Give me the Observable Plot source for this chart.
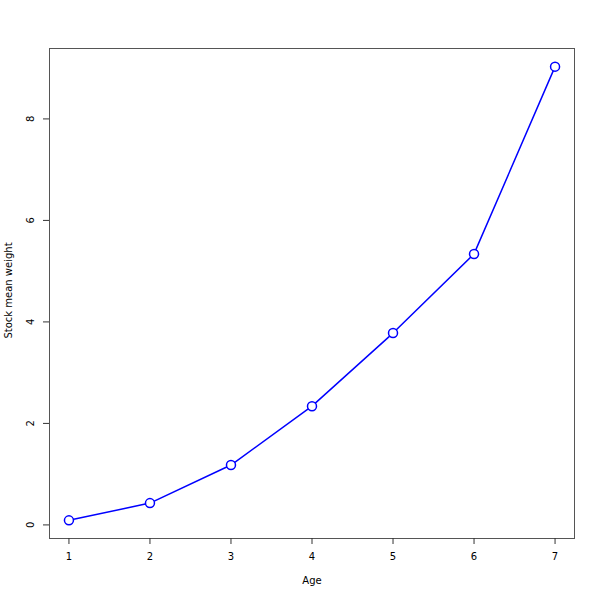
<!DOCTYPE html>
<html>
<head>
<meta charset="utf-8">
<script src="https://cdn.jsdelivr.net/npm/d3@7"></script>
<script src="https://cdn.jsdelivr.net/npm/@observablehq/plot@0.6"></script>
<style>
  html, body { margin: 0; padding: 0; background: #fff; }
</style>
</head>
<body>
<div id="chart"></div>
<script>
const ages = [1, 2, 3, 4, 5, 6, 7];
const weights = [0.09, 0.43, 1.18, 2.34, 3.78, 5.34, 9.03];
const xTicks = [1, 2, 3, 4, 5, 6, 7];
const yTicks = [0, 2, 4, 6, 8];
const xLabel = "Age";
const yLabel = "Stock mean weight";

const data = ages.map((a, i) => ({age: a, weight: weights[i]}));

// R-style 4% axis expansion
const pad = (lo, hi) => { const d = (hi - lo) * 0.04; return [lo - d, hi + d]; };
const xDom = pad(d3.min(ages), d3.max(ages));
const yDom = pad(d3.min(weights), d3.max(weights));

const chart = Plot.plot({
  width: 600,
  height: 600,
  marginLeft: 49,
  marginRight: 26,
  marginTop: 48,
  marginBottom: 62,
  style: {fontFamily: "DejaVu Sans", fontSize: "10px", background: "#fff", color: "#000"},
  x: {domain: xDom, axis: null},
  y: {domain: yDom, axis: null},
  marks: [
    Plot.frame({stroke: "#555", strokeWidth: 1}),
    Plot.axisX(xTicks, {tickSize: 6, tickPadding: 8, stroke: "#333", fill: "#000", label: null, tickFormat: d3.format("d")}),
    Plot.axisY(yTicks, {tickSize: 6, tickRotate: -90, tickPadding: 10, stroke: "#333", fill: "#000", label: null, tickFormat: d3.format("d")}),
    Plot.line(data, {x: "age", y: "weight", stroke: "#0000ff", strokeWidth: 1.5}),
    Plot.dot(data, {x: "age", y: "weight", r: 4.5, fill: "#fff", stroke: "#0000ff", strokeWidth: 1.5}),
    Plot.text([xLabel], {frameAnchor: "bottom", dy: 42, textAnchor: "middle", lineAnchor: "middle", fill: "#000"}),
    Plot.text([yLabel], {frameAnchor: "left", dx: -41, dy: -3, rotate: -90, textAnchor: "middle", lineAnchor: "middle", fill: "#000"})
  ]
});
document.getElementById("chart").appendChild(chart);
</script>
</body>
</html>
